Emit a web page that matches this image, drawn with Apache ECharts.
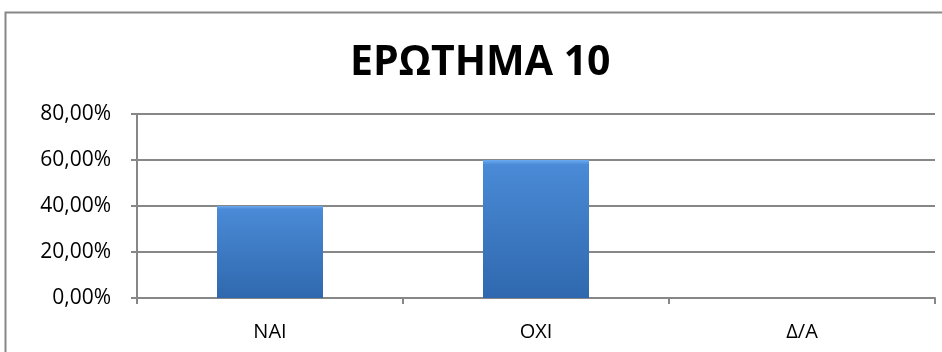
<!DOCTYPE html>
<html>
<head>
<meta charset="utf-8">
<script src="https://cdn.jsdelivr.net/npm/echarts@6/dist/echarts.min.js"></script>
<style>html,body{margin:0;padding:0;background:#fff;}#c{width:942px;height:352px;}</style>
</head>
<body>
<div id="c"></div>
<script>
const titleText = 'ΕΡΩΤΗΜΑ 10';
const categories = ['ΝΑΙ', 'ΟΧΙ', 'Δ/Α'];
const values = [40, 60, 0];
const yTicks = [0, 20, 40, 60, 80];

const chart = echarts.init(document.getElementById('c'), null, {renderer: 'canvas'});
const font = '"Open Sans", "Noto Sans", sans-serif';
const gray = '#878787';
chart.setOption({
  animation: false,
  backgroundColor: '#ffffff',
  title: {
    text: titleText,
    left: 345,
    top: 38,
    textStyle: {fontFamily: font, fontSize: 41, fontWeight: 'bold', color: '#000'}
  },
  graphic: [{
    type: 'polyline',
    shape: {points: [[5.5, 360], [5.5, 12.5], [950, 12.5]]},
    style: {fill: null, stroke: gray, lineWidth: 2},
    silent: true,
    z: 10
  }],
  grid: {left: 137, right: 7, top: 114, bottom: 54, containLabel: false},
  xAxis: {
    type: 'category',
    data: categories,
    boundaryGap: true,
    axisLine: {lineStyle: {color: gray, width: 2}},
    axisTick: {show: true, length: 6, lineStyle: {color: gray, width: 2}},
    splitLine: {show: false},
    axisLabel: {fontFamily: font, fontSize: 20, color: '#000', margin: 24}
  },
  yAxis: {
    type: 'value',
    min: yTicks[0],
    max: yTicks[yTicks.length - 1],
    interval: 20,
    axisLine: {show: true, lineStyle: {color: gray, width: 2}},
    axisTick: {show: true, length: 6, lineStyle: {color: gray, width: 2}},
    splitLine: {show: true, lineStyle: {color: gray, width: 2}},
    axisLabel: {
      fontFamily: font, fontSize: 21, color: '#000', margin: 26,
      formatter: v => v.toFixed(2).replace('.', ',') + '%'
    }
  },
  series: [{
    type: 'bar',
    data: values,
    barWidth: 106,
    itemStyle: {
      color: new echarts.graphic.LinearGradient(0, 0, 0, 1, [
        {offset: 0, color: '#6aaaf0'},
        {offset: 0.035, color: '#4a8ad6'},
        {offset: 1, color: '#2f68ae'}
      ]),
      borderWidth: 0
    }
  }]
});
</script>
</body>
</html>
